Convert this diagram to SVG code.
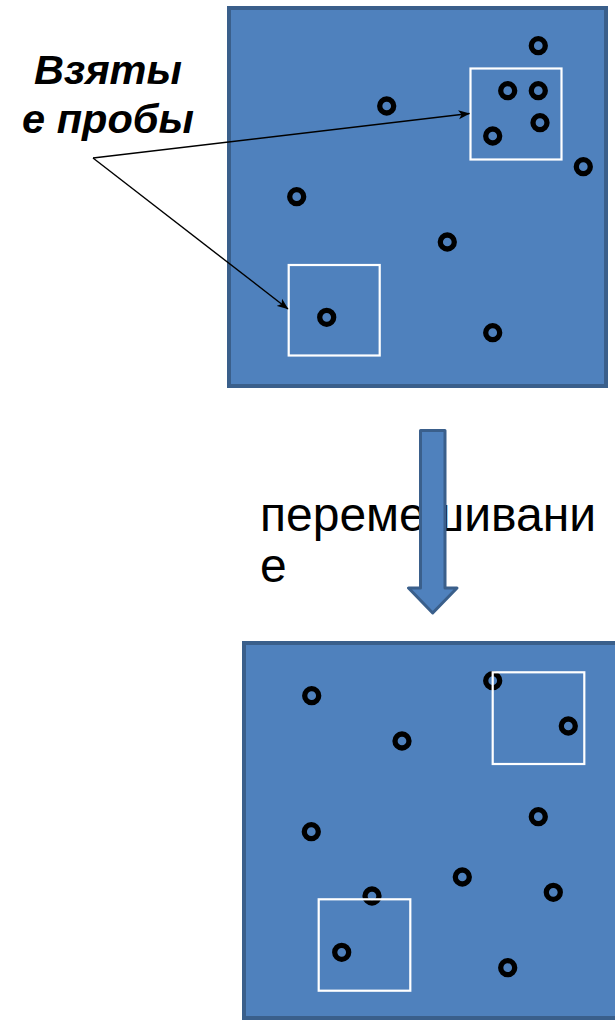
<svg xmlns="http://www.w3.org/2000/svg" width="615" height="1021" viewBox="0 0 615 1021">
  <style>
    .field { fill: #4f81bd; stroke: #3a5f8b; stroke-width: 4; }
    .sample { fill: none; stroke: #ffffff; stroke-width: 2.2; }
    .dot { fill: none; stroke: #000000; stroke-width: 5.3; }
    .pointer { fill: none; stroke: #000000; stroke-width: 1.4; }
    .label { font-family: "Liberation Sans", Arial, sans-serif; fill: #000000; }
    .callout { font-weight: bold; font-style: italic; font-size: 41.5px; }
    .caption { font-size: 48px; }
    .flow { fill: #4f81bd; stroke: #3a5f8b; stroke-width: 3; stroke-linejoin: round; }
  </style>
  <defs>
    <marker id="stealth" viewBox="0 0 12 10" refX="11" refY="5" markerWidth="12" markerHeight="10" markerUnits="userSpaceOnUse" orient="auto">
      <path d="M0,0.5 L11.5,5 L0,9.5 L3,5 Z" fill="#000000"/>
    </marker>
  </defs>

  <rect width="615" height="1021" fill="#ffffff"/>

  <!-- field before mixing -->
  <g id="field-before">
    <rect class="field" x="229" y="8" width="377" height="378"/>
    <circle class="dot" cx="538.3" cy="45.7" r="7"/>
    <circle class="dot" cx="507.7" cy="90.7" r="7"/>
    <circle class="dot" cx="538.3" cy="90.7" r="7"/>
    <circle class="dot" cx="540" cy="122.7" r="7"/>
    <circle class="dot" cx="492.7" cy="136" r="7"/>
    <circle class="dot" cx="583.3" cy="166.7" r="7"/>
    <circle class="dot" cx="386.7" cy="106" r="7"/>
    <circle class="dot" cx="296.7" cy="196.7" r="7"/>
    <circle class="dot" cx="447.3" cy="242" r="7"/>
    <circle class="dot" cx="326.7" cy="317.3" r="7"/>
    <circle class="dot" cx="492.7" cy="332.7" r="7"/>
    <rect class="sample" x="470.5" y="68.5" width="91" height="91"/>
    <rect class="sample" x="288.7" y="265" width="91" height="90.5"/>
  </g>

  <!-- callout label -->
  <g id="callout">
    <text class="label callout" text-anchor="middle" x="108" y="84">Взяты</text>
    <text class="label callout" text-anchor="middle" x="108" y="133">е пробы</text>
  </g>

  <!-- pointers from the label to the sample squares -->
  <g id="connectors">
    <line class="pointer" x1="93" y1="158" x2="469.5" y2="113.5" marker-end="url(#stealth)"/>
    <line class="pointer" x1="93" y1="158" x2="288" y2="309" marker-end="url(#stealth)"/>
  </g>

  <!-- mixing step -->
  <g id="mixing">
    <text class="label caption" x="260" y="530.5">перемешивани</text>
    <text class="label caption" x="260" y="581.5">е</text>
    <path class="flow" d="M420.5,430.5 H445 V588 H457 L432.7,613 L408.5,588 H420.5 Z"/>
  </g>

  <!-- field after mixing -->
  <g id="field-after">
    <rect class="field" x="244" y="643" width="377" height="375"/>
    <circle class="dot" cx="311.7" cy="695.7" r="7"/>
    <circle class="dot" cx="402" cy="741" r="7"/>
    <circle class="dot" cx="492.7" cy="680.7" r="7"/>
    <circle class="dot" cx="568.3" cy="726" r="7"/>
    <circle class="dot" cx="311.3" cy="831.7" r="7"/>
    <circle class="dot" cx="538.3" cy="816.7" r="7"/>
    <circle class="dot" cx="462.3" cy="877" r="7"/>
    <circle class="dot" cx="553.3" cy="892.3" r="7"/>
    <circle class="dot" cx="372" cy="896" r="7"/>
    <circle class="dot" cx="341.7" cy="952.3" r="7"/>
    <circle class="dot" cx="507.7" cy="967.7" r="7"/>
    <rect class="sample" x="492.7" y="672.3" width="91.6" height="91.7"/>
    <rect class="sample" x="318.7" y="899.3" width="91.6" height="91.4"/>
  </g>
</svg>
